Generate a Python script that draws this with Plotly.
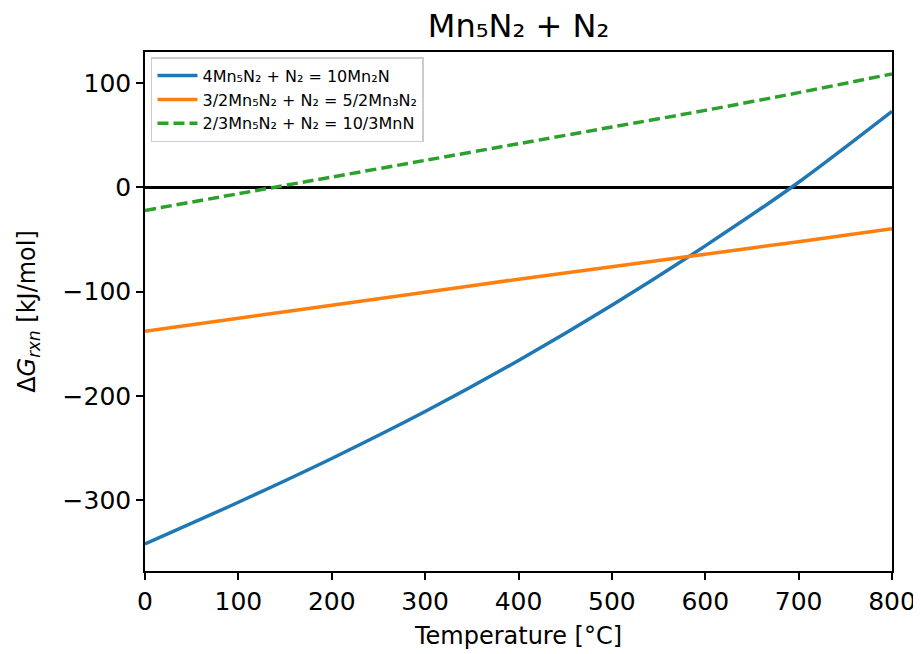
import plotly.graph_objects as go

temperature = [0, 100, 200, 300, 400, 500, 600, 700, 800]
dg_mn2n = [-342, -302, -260, -215, -166, -113, -56, 5, 73]
dg_mn3n2 = [-138, -125.5, -113, -100.5, -88, -76, -64, -52, -39.6]
dg_mnn = [-22, -6, 10, 26, 42, 58, 74, 91, 109]

names = ["4Mn₅N₂ + N₂ = 10Mn₂N", "3/2Mn₅N₂ + N₂ = 5/2Mn₃N₂", "2/3Mn₅N₂ + N₂ = 10/3MnN"]
colors = ["#1f77b4", "#ff7f0e", "#2ca02c"]
dashes = ["solid", "solid", "11px,5px"]
series = [dg_mn2n, dg_mn3n2, dg_mnn]

fig = go.Figure()
for name, ys, c, d in zip(names, series, colors, dashes):
    fig.add_trace(go.Scatter(x=temperature, y=ys, mode="lines", name=name,
                             line=dict(color=c, width=3.5, dash=d, shape="spline", smoothing=0.8)))

font = "DejaVu Sans, Arial, sans-serif"
axis_common = dict(showline=True, linecolor="black", linewidth=1.5, mirror=True,
                   ticks="outside", ticklen=7, tickwidth=1.5, tickcolor="black",
                   showgrid=False, automargin=False,
                   tickfont=dict(size=25, color="black", family=font),
                   title_font=dict(size=24, color="black", family=font))

fig.update_layout(
    width=921, height=654,
    margin=dict(l=137, r=37, t=44, b=91, autoexpand=False),
    paper_bgcolor="white", plot_bgcolor="white",
    font=dict(family=font, color="black"),
    title=dict(text="Mn₅N₂ + N₂", x=(137 + 884) / 2 / 921, xanchor="center",
               y=1 - 18 / 654, yanchor="middle", yref="container",
               font=dict(size=32, color="black", family=font)),
    legend=dict(x=0.008, y=0.99, xanchor="left", yanchor="top",
                bgcolor="rgba(255,255,255,0.8)", bordercolor="#cccccc", borderwidth=1.5,
                font=dict(size=16, color="black", family=font), tracegroupgap=0,
                itemwidth=40),
    showlegend=True,
)
fig.update_xaxes(range=[0, 800], tickvals=[0, 100, 200, 300, 400, 500, 600, 700, 800],
                 title=dict(text="Temperature [°C]", standoff=12), zeroline=False, **axis_common)
fig.update_yaxes(range=[-368, 130], tickvals=[100, 0, -100, -200, -300],
                 ticktext=["100", "0", "−100", "−200", "−300"],
                 title=dict(text="Δ<i>G</i><sub><i>rxn</i></sub> [kJ/mol]", standoff=20),
                 zeroline=True, zerolinecolor="black", zerolinewidth=2.5, **axis_common)

fig.write_html("out.html")
